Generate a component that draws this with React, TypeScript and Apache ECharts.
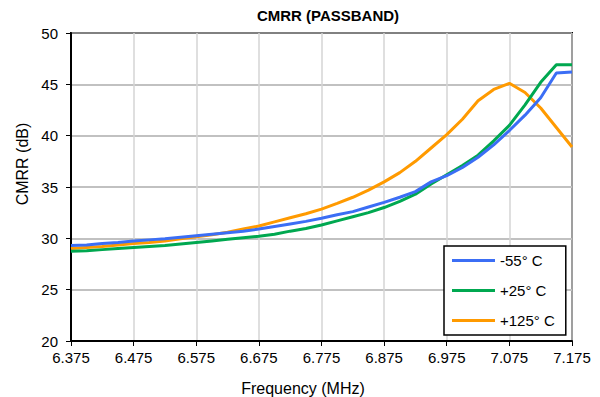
import React, { useEffect, useRef } from "react";
import * as echarts from "echarts";

const freqMHz = [
  6.375, 6.4, 6.425, 6.45, 6.475, 6.5, 6.525, 6.55, 6.575, 6.6, 6.625, 6.65,
  6.675, 6.7, 6.725, 6.75, 6.775, 6.8, 6.825, 6.85, 6.875, 6.9, 6.925, 6.95,
  6.975, 7.0, 7.025, 7.05, 7.075, 7.1, 7.125, 7.15, 7.175,
];

const cmrrMinus55 = [
  29.3, 29.35, 29.5, 29.6, 29.75, 29.85, 29.95, 30.1, 30.25, 30.4, 30.55, 30.7,
  30.9, 31.15, 31.4, 31.65, 31.95, 32.3, 32.6, 33.05, 33.5, 34.0, 34.55, 35.5,
  36.1, 36.9, 37.9, 39.1, 40.5, 42.0, 43.7, 46.1, 46.2,
];

const cmrrPlus25 = [
  28.75, 28.8, 28.9, 29.0, 29.1, 29.2, 29.3, 29.45, 29.6, 29.75, 29.9, 30.05,
  30.2, 30.4, 30.7, 30.95, 31.3, 31.7, 32.1, 32.5, 33.0, 33.6, 34.3, 35.3,
  36.2, 37.1, 38.1, 39.5, 41.0, 43.0, 45.2, 46.9, 46.9,
];

const cmrrPlus125 = [
  29.0, 29.1, 29.2, 29.35, 29.5, 29.6, 29.75, 29.95, 30.15, 30.35, 30.6, 30.9,
  31.2, 31.6, 32.0, 32.4, 32.85, 33.4, 34.0, 34.7, 35.5, 36.4, 37.5, 38.8,
  40.1, 41.6, 43.4, 44.5, 45.1, 44.2, 42.7, 40.8, 38.9,
];

const xTickLabels = [
  "6.375", "6.475", "6.575", "6.675", "6.775", "6.875", "6.975", "7.075", "7.175",
];

const seriesNames = ["-55° C", "+25° C", "+125° C"];
const seriesColors = ["#3b6ef5", "#00a850", "#ff9a00"];

const FONT = "'Liberation Sans', Arial, Helvetica, sans-serif";

export default function App() {
  const ref = useRef<HTMLDivElement>(null);

  useEffect(() => {
    document.body.style.margin = "0";
    if (!ref.current) return;
    const chart = echarts.init(ref.current, null, { renderer: "svg" });
    const f0 = freqMHz[0];
    const build = (vals: number[]) => freqMHz.map((f, i) => [f - f0, vals[i]]);
    const allVals = [cmrrMinus55, cmrrPlus25, cmrrPlus125];

    chart.setOption({
      animation: false,
      backgroundColor: "#ffffff",
      grid: {
        left: 71,
        right: 28,
        top: 33,
        bottom: 56,
        show: true,
        borderColor: "#000000",
        borderWidth: 2,
        backgroundColor: "transparent",
      },
      xAxis: {
        type: "value",
        min: 0,
        max: 0.8,
        interval: 0.1,
        axisLine: { show: true, lineStyle: { color: "#000", width: 2 } },
        axisTick: { show: true, length: 5, lineStyle: { color: "#000", width: 1 } },
        axisLabel: {
          color: "#000",
          fontSize: 15,
          fontFamily: FONT,
          margin: 9,
          formatter: (v: number) => xTickLabels[Math.round(v / 0.1)] ?? "",
        },
        splitLine: { show: true, lineStyle: { color: "#d4d4d4", width: 1.5 } },
      },
      yAxis: {
        type: "value",
        min: 20,
        max: 50,
        interval: 5,
        axisLine: { show: true, lineStyle: { color: "#000", width: 2 } },
        axisTick: { show: true, length: 5, lineStyle: { color: "#000", width: 1 } },
        axisLabel: { color: "#000", fontSize: 15, fontFamily: FONT, margin: 13 },
        splitLine: { show: true, lineStyle: { color: "#acacac", width: 1.5 } },
      },
      legend: {
        show: true,
        orient: "vertical",
        left: 444,
        top: 246,
        padding: [7, 11, 7, 8],
        itemGap: 15,
        itemWidth: 43,
        itemHeight: 3,
        icon: "rect",
        backgroundColor: "#ffffff",
        borderColor: "#000000",
        borderWidth: 1.5,
        borderRadius: 0,
        textStyle: { color: "#000", fontSize: 15, fontFamily: FONT },
        data: seriesNames,
      },
      graphic: [
        {
          type: "text",
          x: 328,
          y: 15,
          style: {
            text: "CMRR (PASSBAND)",
            font: `bold 15px ${FONT}`,
            fill: "#000",
            align: "center",
            verticalAlign: "middle",
          },
        },
        {
          type: "text",
          x: 303,
          y: 388,
          style: {
            text: "Frequency (MHz)",
            font: `16px ${FONT}`,
            fill: "#000",
            align: "center",
            verticalAlign: "middle",
          },
        },
        {
          type: "text",
          x: 22,
          y: 164,
          rotation: Math.PI / 2,
          style: {
            text: "CMRR (dB)",
            font: `16px ${FONT}`,
            fill: "#000",
            align: "center",
            verticalAlign: "middle",
          },
        },
      ],
      series: seriesNames.map((name, i) => ({
        name,
        type: "line",
        data: build(allVals[i]),
        symbol: "none",
        smooth: false,
        lineStyle: { color: seriesColors[i], width: 3 },
        itemStyle: { color: seriesColors[i] },
        z: 3 + (2 - i),
      })),
    });

    return () => chart.dispose();
  }, []);

  return <div ref={ref} style={{ width: 600, height: 397 }} />;
}
